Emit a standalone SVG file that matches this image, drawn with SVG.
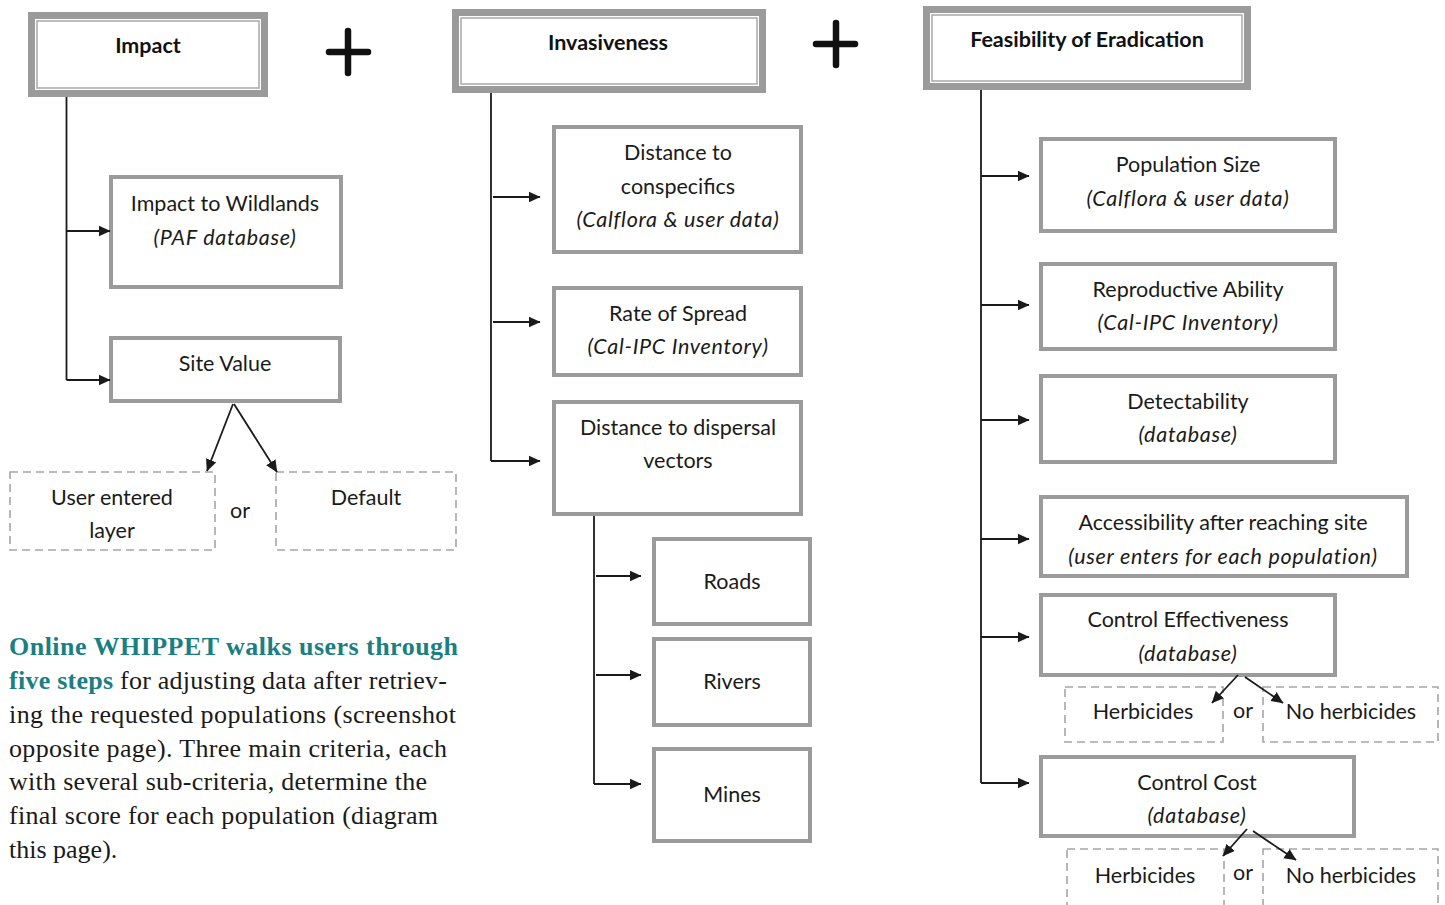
<svg xmlns="http://www.w3.org/2000/svg" width="1445" height="905" viewBox="0 0 1445 905">
<defs>
<style>
.hdo{fill:#fff;stroke:#9b9b9b;stroke-width:7}
.hdi{fill:none;stroke:#a8a8a8;stroke-width:1.5}
.box{fill:#fff;stroke:#9b9b9b;stroke-width:4}
.dash{fill:none;stroke:#a6a6a6;stroke-width:1.6;stroke-dasharray:8 5}
.t{font-family:Lato,"Open Sans",sans-serif;font-size:21.5px;fill:#1a1a1a;text-anchor:middle}
.i{font-style:italic;letter-spacing:0.7px}
.h{font-family:Lato,"Open Sans",sans-serif;font-size:21.5px;font-weight:bold;fill:#111;text-anchor:middle}
.c{fill:none;stroke:#1a1a1a;stroke-width:1.8}
.a{fill:none;stroke:#1a1a1a;stroke-width:1.8;marker-end:url(#ah)}
.plus{stroke:#111;stroke-width:6.5;stroke-linecap:round}
.cap{font-family:"Liberation Serif","Times New Roman",serif;font-size:26px;fill:#1a1a1a}
.teal{fill:#1b7f82;font-weight:bold}
</style>
<marker id="ah" viewBox="0 0 12 12" refX="11.5" refY="6" markerWidth="12" markerHeight="12" markerUnits="userSpaceOnUse" orient="auto">
<path d="M0,0.5 L12,6 L0,11.5 Z" fill="#1a1a1a"/>
</marker>
</defs>
<rect width="1445" height="905" fill="#fff"/>

<!-- headers -->
<g id="impact">
<rect class="hdo" x="31.5" y="15.5" width="233" height="78"/>
<rect class="hdi" x="37" y="21" width="222" height="67"/>
<text class="h" x="148" y="53">Impact</text>
</g>
<g id="invasiveness">
<rect class="hdo" x="455.5" y="12.5" width="307" height="77"/>
<rect class="hdi" x="461" y="18" width="296" height="66"/>
<text class="h" x="608" y="50">Invasiveness</text>
</g>
<g id="feasibility">
<rect class="hdo" x="926.5" y="9.5" width="321" height="77"/>
<rect class="hdi" x="932" y="15" width="310" height="66"/>
<text class="h" x="1087" y="47">Feasibility of Eradication</text>
</g>

<!-- plus signs -->
<g id="plus-signs">
<line class="plus" x1="329" y1="52" x2="368" y2="52"/>
<line class="plus" x1="348" y1="31" x2="348" y2="73"/>
<line class="plus" x1="816" y1="44" x2="855" y2="44"/>
<line class="plus" x1="836" y1="23" x2="836" y2="65"/>
</g>

<!-- Impact column -->
<g id="impact-wildlands">
<rect class="box" x="111" y="177" width="230" height="110"/>
<text class="t" x="225" y="211">Impact to Wildlands</text>
<text class="t i" x="225" y="245">(PAF database)</text>
</g>
<g id="site-value">
<rect class="box" x="111" y="338" width="229" height="63"/>
<text class="t" x="225" y="371">Site Value</text>
</g>
<g id="user-layer">
<rect class="dash" x="10" y="472" width="205" height="78"/>
<text class="t" x="112" y="505">User entered</text>
<text class="t" x="112" y="538">layer</text>
</g>
<g id="default">
<rect class="dash" x="276" y="472" width="180" height="78"/>
<text class="t" x="366" y="505">Default</text>
</g>
<text class="t" x="240" y="518">or</text>

<!-- Invasiveness column -->
<g id="dist-conspecifics">
<rect class="box" x="554" y="127" width="247" height="125"/>
<text class="t" x="678" y="160">Distance to</text>
<text class="t" x="678" y="194">conspecifics</text>
<text class="t i" x="678" y="227">(Calflora &amp; user data)</text>
</g>
<g id="rate-spread">
<rect class="box" x="554" y="288" width="247" height="87"/>
<text class="t" x="678" y="321">Rate of Spread</text>
<text class="t i" x="678" y="354">(Cal-IPC Inventory)</text>
</g>
<g id="dist-dispersal">
<rect class="box" x="554" y="402" width="247" height="112"/>
<text class="t" x="678" y="435">Distance to dispersal</text>
<text class="t" x="678" y="468">vectors</text>
</g>
<g id="roads">
<rect class="box" x="654" y="539" width="156" height="85"/>
<text class="t" x="732" y="589">Roads</text>
</g>
<g id="rivers">
<rect class="box" x="654" y="639" width="156" height="86"/>
<text class="t" x="732" y="689">Rivers</text>
</g>
<g id="mines">
<rect class="box" x="654" y="749" width="156" height="92"/>
<text class="t" x="732" y="802">Mines</text>
</g>

<!-- Feasibility column -->
<g id="population-size">
<rect class="box" x="1041" y="139" width="294" height="92"/>
<text class="t" x="1188" y="172">Population Size</text>
<text class="t i" x="1188" y="206">(Calflora &amp; user data)</text>
</g>
<g id="reproductive">
<rect class="box" x="1041" y="264" width="294" height="85"/>
<text class="t" x="1188" y="297">Reproductive Ability</text>
<text class="t i" x="1188" y="330">(Cal-IPC Inventory)</text>
</g>
<g id="detectability">
<rect class="box" x="1041" y="376" width="294" height="86"/>
<text class="t" x="1188" y="409">Detectability</text>
<text class="t i" x="1188" y="442">(database)</text>
</g>
<g id="accessibility">
<rect class="box" x="1041" y="497" width="366" height="79"/>
<text class="t" x="1223" y="530">Accessibility after reaching site</text>
<text class="t i" x="1223" y="564">(user enters for each population)</text>
</g>
<g id="control-effectiveness">
<rect class="box" x="1041" y="595" width="294" height="80"/>
<text class="t" x="1188" y="627">Control Effectiveness</text>
<text class="t i" x="1188" y="661">(database)</text>
</g>
<g id="ce-herbicides">
<rect class="dash" x="1065" y="687" width="158" height="55"/>
<text class="t" x="1143" y="719">Herbicides</text>
</g>
<g id="ce-no-herbicides">
<rect class="dash" x="1263" y="687" width="175" height="55"/>
<text class="t" x="1351" y="719">No herbicides</text>
</g>
<text class="t" x="1243" y="718">or</text>
<g id="control-cost">
<rect class="box" x="1041" y="757" width="313" height="79"/>
<text class="t" x="1197" y="790">Control Cost</text>
<text class="t i" x="1197" y="823">(database)</text>
</g>
<g id="cc-herbicides">
<rect class="dash" x="1067" y="849" width="157" height="62"/>
<text class="t" x="1145" y="883">Herbicides</text>
</g>
<g id="cc-no-herbicides">
<rect class="dash" x="1263" y="849" width="175" height="62"/>
<text class="t" x="1351" y="883">No herbicides</text>
</g>
<text class="t" x="1243" y="880">or</text>

<!-- connectors -->
<g id="connectors">
<path class="c" d="M66.5,97 V380"/>
<path class="a" d="M66.5,231 H110"/>
<path class="a" d="M66.5,380 H110"/>
<path class="a" d="M233,404 L207,471"/>
<path class="a" d="M234,404 L277,472"/>
<path class="c" d="M491,93 V461"/>
<path class="a" d="M493,197 H540"/>
<path class="a" d="M493,322 H540"/>
<path class="a" d="M491,461 H540"/>
<path class="c" d="M594,516 V784"/>
<path class="a" d="M596,576 H641"/>
<path class="a" d="M596,675 H641"/>
<path class="a" d="M594,784 H641"/>
<path class="c" d="M981,90 V783"/>
<path class="a" d="M981,176 H1029"/>
<path class="a" d="M981,305 H1029"/>
<path class="a" d="M981,420 H1029"/>
<path class="a" d="M981,539 H1029"/>
<path class="a" d="M981,637 H1029"/>
<path class="a" d="M981,783 H1029"/>
<path class="a" d="M1238,675 L1212,703"/>
<path class="a" d="M1245,677 L1283,703"/>
<path class="a" d="M1247,829 L1223,856"/>
<path class="a" d="M1253,831 L1296,860"/>
</g>

<!-- caption -->
<g id="caption">
<text class="cap teal" x="9" y="655" textLength="449" lengthAdjust="spacing">Online WHIPPET walks users through</text>
<text class="cap" x="9" y="689" textLength="438" lengthAdjust="spacing"><tspan class="teal">five steps</tspan> for adjusting data after retriev-</text>
<text class="cap" x="9" y="723" textLength="447" lengthAdjust="spacing">ing the requested populations (screenshot</text>
<text class="cap" x="9" y="757" textLength="438" lengthAdjust="spacing">opposite page). Three main criteria, each</text>
<text class="cap" x="9" y="790" textLength="418" lengthAdjust="spacing">with several sub-criteria, determine the</text>
<text class="cap" x="9" y="824" textLength="429" lengthAdjust="spacing">final score for each population (diagram</text>
<text class="cap" x="9" y="858">this page).</text>
</g>
</svg>
